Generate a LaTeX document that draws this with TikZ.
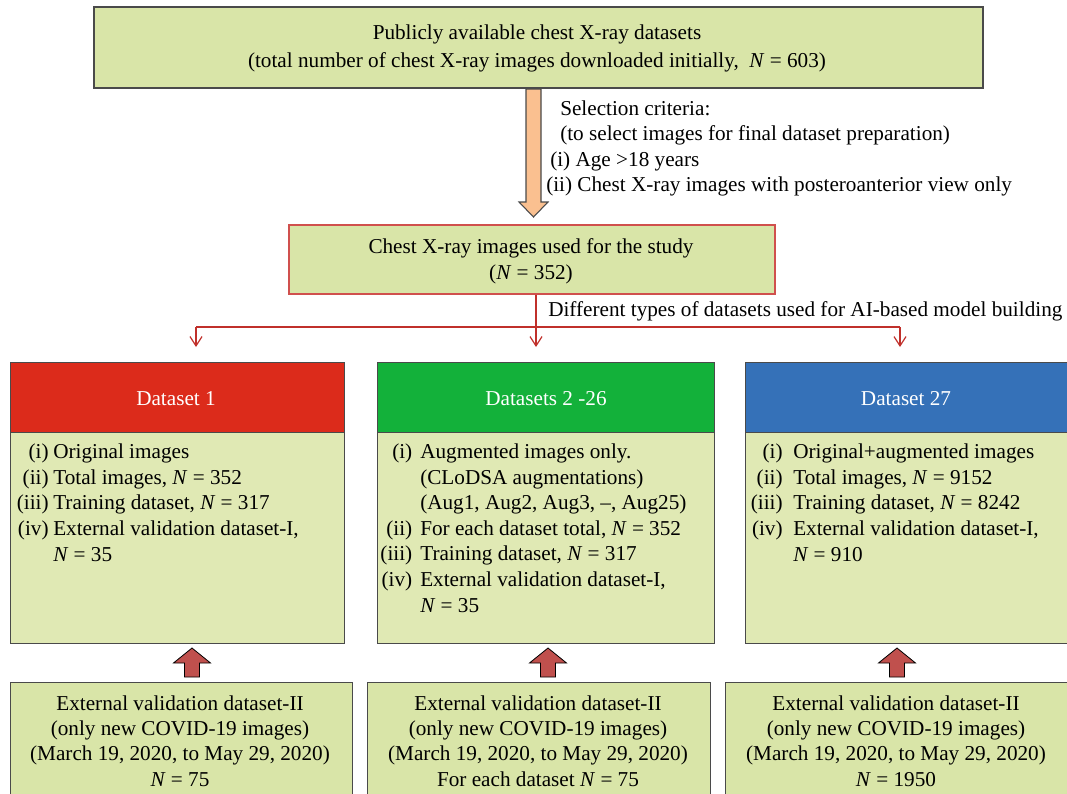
\documentclass[tikz,border=0pt]{standalone}
\usepackage{fontspec}
\setmainfont{Liberation Serif}
\usetikzlibrary{arrows.meta,calc}
\definecolor{boxfill}{HTML}{D9E5A8}
\definecolor{bodyfill}{HTML}{E0E9B4}
\definecolor{hdrred}{HTML}{DC2B1B}
\definecolor{hdrgreen}{HTML}{13B13A}
\definecolor{hdrblue}{HTML}{3571B8}
\definecolor{connred}{HTML}{C0302B}
\definecolor{studyred}{HTML}{D0504D}
\definecolor{arrorange}{HTML}{FAC090}
\definecolor{arrred}{HTML}{C0504D}
\definecolor{edgegray}{HTML}{4A4A4A}
\newcommand{\lbl}[2]{\makebox[0pt][r]{#1\hspace{#2}}}
\begin{document}
\begin{tikzpicture}[x=0.75pt,y=-0.75pt,
  txt/.style={font=\fontsize{15.9}{19.2}\selectfont, inner sep=0pt},
  greenbox/.style={draw=edgegray, line width=1.2pt, fill=boxfill, inner sep=0pt, anchor=north west},
  bodybox/.style={draw=edgegray, line width=1pt, fill=bodyfill, inner sep=0pt, anchor=north west},
  hdrbox/.style={draw=edgegray, line width=1pt, inner sep=0pt, anchor=north west},
  conn/.style={draw=connred, line width=1.3pt},
  connarrow/.style={draw=connred, line width=0.9pt, -{Straight Barb[length=7pt,width=9pt]}},
  blockup/.style={fill=arrred, draw=black, line width=0.6pt, line join=miter},
  blockdown/.style={fill=arrorange, draw=edgegray, line width=0.8pt, line join=miter}
]
\useasboundingbox (0,0) rectangle (1067,793);

% top box
\node[greenbox, minimum width=889*0.75pt, minimum height=81*0.75pt] (top) at (93,6) {};
\node[txt, align=center, font=\fontsize{15.9}{21}\selectfont] (toptxt) at (537,48)
  {Publicly available chest X-ray datasets\\(total number of chest X-ray images downloaded initially,\ \ \textit{N} = 603)};

% selection arrow (block)
\draw[blockdown] (526,89) -- (541,89) -- (541,202) -- (548,202) -- (533.5,217) -- (519,202) -- (526,202) -- cycle;
\node[txt, anchor=base west] (sel1) at (560,115) {Selection criteria:};
\node[txt, anchor=base west] (sel2) at (560,140) {(to select images for final dataset preparation)};
\node[txt, anchor=base west] (sel3) at (550,166) {(i) Age {>}18 years};
\node[txt, anchor=base west] (sel4) at (546,191) {(ii) Chest X-ray images with posteroanterior view only};

% study box
\node[draw=studyred, line width=1.2pt, fill=boxfill, inner sep=0pt, anchor=north west,
      minimum width=486*0.75pt, minimum height=69*0.75pt] (study) at (288,224) {};
\node[txt, align=center, font=\fontsize{15.9}{19.5}\selectfont] (studytxt) at (531,261)
  {Chest X-ray images used for the study\\(\textit{N} = 352)};

% dataset headers and bodies
\node[hdrbox, fill=hdrred, minimum width=334*0.75pt, minimum height=70*0.75pt] (h1) at (10,362) {};
\node[hdrbox, fill=hdrgreen, minimum width=337*0.75pt, minimum height=70*0.75pt] (h2) at (377,362) {};
\node[hdrbox, fill=hdrblue, minimum width=330*0.75pt, minimum height=70*0.75pt] (h3) at (745,362) {};
\node[txt, text=white] (h1t) at (176,399) {Dataset 1};
\node[txt, text=white] (h2t) at (546,399) {Datasets 2 -26};
\node[txt, text=white] (h3t) at (906,399) {Dataset 27};

\node[bodybox, minimum width=334*0.75pt, minimum height=211*0.75pt] (b1) at (10,432) {};
\node[bodybox, minimum width=337*0.75pt, minimum height=211*0.75pt] (b2) at (377,432) {};
\node[bodybox, minimum width=330*0.75pt, minimum height=211*0.75pt] (b3) at (745,432) {};

% anchor = base of last line
\node[txt, align=left, anchor=base west] (b1t) at (53,561)
  {\lbl{(i)}{3.5pt}Original images\\
   \lbl{(ii)}{3.5pt}Total images, \textit{N} = 352\\
   \lbl{(iii)}{3.5pt}Training dataset, \textit{N} = 317\\
   \lbl{(iv)}{3.5pt}External validation dataset-I,\\
   \textit{N} = 35};
\node[txt, align=left, anchor=base west] (b2t) at (420,612)
  {\lbl{(i)}{6pt}Augmented images only.\\
   (CLoDSA augmentations)\\
   (Aug1, Aug2, Aug3, --, Aug25)\\
   \lbl{(ii)}{6pt}For each dataset total, \textit{N} = 352\\
   \lbl{(iii)}{6pt}Training dataset, \textit{N} = 317\\
   \lbl{(iv)}{6pt}External validation dataset-I,\\
   \textit{N} = 35};
\node[txt, align=left, anchor=base west] (b3t) at (793,561)
  {\lbl{(i)}{8pt}Original+augmented images\\
   \lbl{(ii)}{8pt}Total images, \textit{N} = 9152\\
   \lbl{(iii)}{8pt}Training dataset, \textit{N} = 8242\\
   \lbl{(iv)}{8pt}External validation dataset-I,\\
   \textit{N} = 910};

% red connector
\coordinate (split) at (536,327);
\coordinate (lft) at (196,327);
\coordinate (rgt) at (900,327);
\draw[conn] (study.south -| split) -- (split);
\draw[conn] (lft) -- (rgt);
\draw[connarrow] (lft) -- ($(lft)+(0,20)$);
\draw[connarrow] (split) -- ($(split)+(0,20)$);
\draw[connarrow] (rgt) -- ($(rgt)+(0,20)$);
\node[txt, anchor=base west] (difft) at (548,316) {Different types of datasets used for AI-based model building};

% bottom boxes
\node[greenbox, line width=1pt, minimum width=342*0.75pt, minimum height=116*0.75pt] (e1) at (10,682) {};
\node[greenbox, line width=1pt, minimum width=343*0.75pt, minimum height=116*0.75pt] (e2) at (367,682) {};
\node[greenbox, line width=1pt, minimum width=346*0.75pt, minimum height=116*0.75pt] (e3) at (725,682) {};
\node[txt, align=center, font=\fontsize{15.9}{18.9}\selectfont] (e1t) at (180,741)
  {External validation dataset-II\\(only new COVID-19 images)\\(March 19, 2020, to May 29, 2020)\\\textit{N} = 75};
\node[txt, align=center, font=\fontsize{15.9}{18.9}\selectfont] (e2t) at (538,741)
  {External validation dataset-II\\(only new COVID-19 images)\\(March 19, 2020, to May 29, 2020)\\For each dataset \textit{N} = 75};
\node[txt, align=center, font=\fontsize{15.9}{18.9}\selectfont] (e3t) at (896,741)
  {External validation dataset-II\\(only new COVID-19 images)\\(March 19, 2020, to May 29, 2020)\\\textit{N} = 1950};

% up block arrows
\foreach \cx in {192,548,897}{
  \draw[blockup] (\cx-7.5,677) -- (\cx+7.5,677) -- (\cx+7.5,663) -- (\cx+18.5,663) -- (\cx,648)
     -- (\cx-18.5,663) -- (\cx-7.5,663) -- cycle;
}
\end{tikzpicture}
\end{document}
